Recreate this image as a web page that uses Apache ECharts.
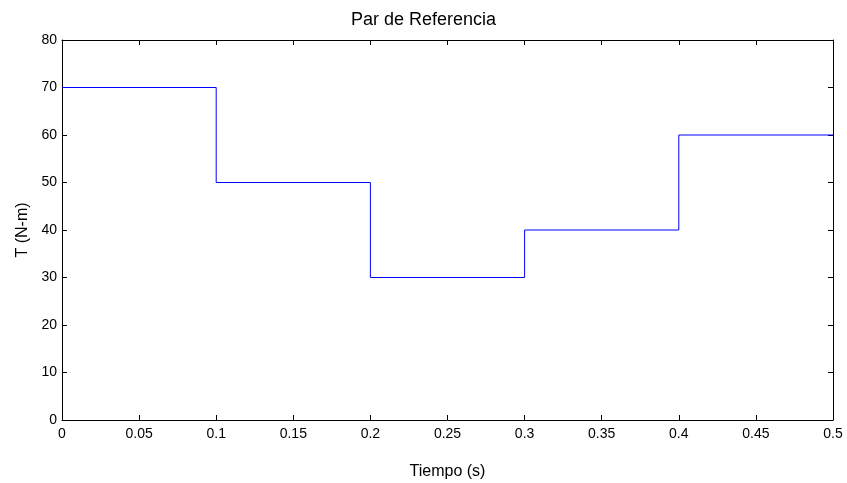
<!DOCTYPE html>
<html>
<head>
<meta charset="utf-8">
<script src="https://cdn.jsdelivr.net/npm/echarts@6/dist/echarts.min.js"></script>
<style>html,body{margin:0;padding:0;background:#fff;}#c{width:847px;height:483px;}</style>
</head>
<body>
<div id="c"></div>
<script>
const times = [0, 0.1, 0.2, 0.3, 0.4, 0.5];
const torque = [70, 50, 30, 40, 60, 60];
const xTicks = [0, 0.05, 0.1, 0.15, 0.2, 0.25, 0.3, 0.35, 0.4, 0.45, 0.5];
const yTicks = [0, 10, 20, 30, 40, 50, 60, 70, 80];

const chart = echarts.init(document.getElementById('c'), null, {renderer: 'canvas'});
const font = 'Liberation Sans, Arial, sans-serif';
const axisCommon = {
  axisLine: {show: true, onZero: false, lineStyle: {color: '#000', width: 1}},
  axisTick: {show: true, inside: true, length: 5, lineStyle: {color: '#000'}},
  splitLine: {show: false}
};
chart.setOption({
  animation: false,
  title: {text: 'Par de Referencia', left: 'center', top: 6,
    textStyle: {fontFamily: font, fontSize: 18, fontWeight: 'normal', color: '#000'}},
  grid: {left: 62, right: 14, top: 40, bottom: 63, containLabel: false, outerBoundsMode: 'none'},
  xAxis: [
    Object.assign({type: 'value', position: 'bottom', min: 0, max: 0.5, interval: 0.05,
      name: 'Tiempo (s)', nameLocation: 'middle', nameGap: 44,
      nameTextStyle: {fontFamily: font, fontSize: 16, color: '#000'},
      axisLabel: {fontFamily: font, fontSize: 14, color: '#000', margin: 7,
        formatter: v => String(Math.round(v * 100) / 100)}}, axisCommon),
    Object.assign({type: 'value', position: 'top', min: 0, max: 0.5, interval: 0.05,
      axisLabel: {show: false}}, axisCommon)
  ],
  yAxis: [
    Object.assign({type: 'value', position: 'left', min: 0, max: 80, interval: 10,
      name: 'T (N-m)', nameLocation: 'middle', nameGap: 31, nameRotate: 90,
      nameTextStyle: {fontFamily: font, fontSize: 16, color: '#000'},
      axisLabel: {fontFamily: font, fontSize: 14, color: '#000', margin: 5}}, axisCommon),
    Object.assign({type: 'value', position: 'right', min: 0, max: 80, interval: 10,
      axisLabel: {show: false}}, axisCommon)
  ],
  series: [{
    type: 'line', step: 'end', showSymbol: false, symbol: 'none',
    data: times.map((t, i) => [t, torque[i]]),
    lineStyle: {color: '#0000ff', width: 1}
  }]
});
</script>
</body>
</html>
